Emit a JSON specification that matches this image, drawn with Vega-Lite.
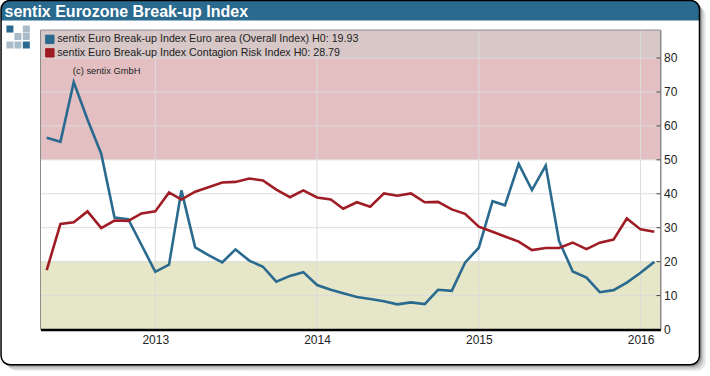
{
"$schema":"https://vega.github.io/schema/vega-lite/v6.json",
"width":620,"height":299.5,
"autosize":{"type":"none"},
"padding":{"left":40.5,"top":30,"right":49.5,"bottom":46.5},
"background":"white",
"title":{"text":"sentix Eurozone Break-up Index","anchor":"start","frame":"group","orient":"top","dx":-36,"offset":-20,"font":"Liberation Sans","fontSize":16,"fontWeight":"bold","color":"white"},
"config":{"view":{"stroke":"#8c8c8c","strokeWidth":1},"font":"Liberation Sans"},
"datasets":{"yticks":[
{"v":0,"a":"2016-02-06","b":"2016-02-15"},{"v":10,"a":"2016-02-06","b":"2016-02-15"},{"v":20,"a":"2016-02-06","b":"2016-02-15"},{"v":30,"a":"2016-02-06","b":"2016-02-15"},{"v":40,"a":"2016-02-06","b":"2016-02-15"},{"v":50,"a":"2016-02-06","b":"2016-02-15"},{"v":60,"a":"2016-02-06","b":"2016-02-15"},{"v":70,"a":"2016-02-06","b":"2016-02-15"},{"v":80,"a":"2016-02-06","b":"2016-02-15"}
],"index":[
{"month":"2012-05-01","series":"A","value":56.5},{"month":"2012-06-01","series":"A","value":55.3},{"month":"2012-07-01","series":"A","value":72.9},{"month":"2012-08-01","series":"A","value":61.9},{"month":"2012-09-01","series":"A","value":51.8},{"month":"2012-10-01","series":"A","value":33},{"month":"2012-11-01","series":"A","value":32.5},{"month":"2012-12-01","series":"A","value":24.9},
{"month":"2013-01-01","series":"A","value":17},{"month":"2013-02-01","series":"A","value":19.1},{"month":"2013-03-01","series":"A","value":41},{"month":"2013-04-01","series":"A","value":24.2},{"month":"2013-05-01","series":"A","value":21.9},{"month":"2013-06-01","series":"A","value":19.8},{"month":"2013-07-01","series":"A","value":23.6},{"month":"2013-08-01","series":"A","value":20.3},{"month":"2013-09-01","series":"A","value":18.5},{"month":"2013-10-01","series":"A","value":14.1},{"month":"2013-11-01","series":"A","value":15.8},{"month":"2013-12-01","series":"A","value":16.9},
{"month":"2014-01-01","series":"A","value":13.1},{"month":"2014-02-01","series":"A","value":11.7},{"month":"2014-03-01","series":"A","value":10.7},{"month":"2014-04-01","series":"A","value":9.6},{"month":"2014-05-01","series":"A","value":9},{"month":"2014-06-01","series":"A","value":8.3},{"month":"2014-07-01","series":"A","value":7.4},{"month":"2014-08-01","series":"A","value":8},{"month":"2014-09-01","series":"A","value":7.5},{"month":"2014-10-01","series":"A","value":11.7},{"month":"2014-11-01","series":"A","value":11.4},{"month":"2014-12-01","series":"A","value":19.7},
{"month":"2015-01-01","series":"A","value":24.1},{"month":"2015-02-01","series":"A","value":37.8},{"month":"2015-03-01","series":"A","value":36.6},{"month":"2015-04-01","series":"A","value":48.8},{"month":"2015-05-01","series":"A","value":41.1},{"month":"2015-06-01","series":"A","value":48.3},{"month":"2015-07-01","series":"A","value":26.1},{"month":"2015-08-01","series":"A","value":17.1},{"month":"2015-09-01","series":"A","value":15.3},{"month":"2015-10-01","series":"A","value":11},{"month":"2015-11-01","series":"A","value":11.6},{"month":"2015-12-01","series":"A","value":13.8},{"month":"2016-01-01","series":"A","value":16.7},{"month":"2016-02-01","series":"A","value":19.93},
{"month":"2012-05-01","series":"B","value":17.5},{"month":"2012-06-01","series":"B","value":31.1},{"month":"2012-07-01","series":"B","value":31.6},{"month":"2012-08-01","series":"B","value":34.8},{"month":"2012-09-01","series":"B","value":29.9},{"month":"2012-10-01","series":"B","value":32.1},{"month":"2012-11-01","series":"B","value":32},{"month":"2012-12-01","series":"B","value":34.2},
{"month":"2013-01-01","series":"B","value":34.8},{"month":"2013-02-01","series":"B","value":40.4},{"month":"2013-03-01","series":"B","value":38.3},{"month":"2013-04-01","series":"B","value":40.6},{"month":"2013-05-01","series":"B","value":41.9},{"month":"2013-06-01","series":"B","value":43.3},{"month":"2013-07-01","series":"B","value":43.5},{"month":"2013-08-01","series":"B","value":44.5},{"month":"2013-09-01","series":"B","value":43.9},{"month":"2013-10-01","series":"B","value":41.2},{"month":"2013-11-01","series":"B","value":39},{"month":"2013-12-01","series":"B","value":41},
{"month":"2014-01-01","series":"B","value":38.9},{"month":"2014-02-01","series":"B","value":38.3},{"month":"2014-03-01","series":"B","value":35.6},{"month":"2014-04-01","series":"B","value":37.5},{"month":"2014-05-01","series":"B","value":36.2},{"month":"2014-06-01","series":"B","value":40.1},{"month":"2014-07-01","series":"B","value":39.4},{"month":"2014-08-01","series":"B","value":40.1},{"month":"2014-09-01","series":"B","value":37.5},{"month":"2014-10-01","series":"B","value":37.6},{"month":"2014-11-01","series":"B","value":35.4},{"month":"2014-12-01","series":"B","value":34.1},
{"month":"2015-01-01","series":"B","value":30.3},{"month":"2015-02-01","series":"B","value":28.8},{"month":"2015-03-01","series":"B","value":27.4},{"month":"2015-04-01","series":"B","value":25.9},{"month":"2015-05-01","series":"B","value":23.4},{"month":"2015-06-01","series":"B","value":24},{"month":"2015-07-01","series":"B","value":24},{"month":"2015-08-01","series":"B","value":25.6},{"month":"2015-09-01","series":"B","value":23.7},{"month":"2015-10-01","series":"B","value":25.6},{"month":"2015-11-01","series":"B","value":26.5},{"month":"2015-12-01","series":"B","value":32.7},{"month":"2016-01-01","series":"B","value":29.5},{"month":"2016-02-01","series":"B","value":28.79}
]},
"layer":[
{"mark":{"type":"rect","fill":"#e6e6e6","cornerRadius":9},"data":{"values":[{"a":"2012-02-02","b":"2016-05-27","c":95.19,"d":-12.17}]},"encoding":{"x":{"field":"a","type":"temporal"},"x2":{"field":"b"},"y":{"field":"c","type":"quantitative"},"y2":{"field":"d"}}},
{"mark":{"type":"rect","fill":"#c8c8c8","cornerRadius":9},"data":{"values":[{"a":"2012-01-28","b":"2016-05-22","c":95.78,"d":-11.58}]},"encoding":{"x":{"field":"a","type":"temporal"},"x2":{"field":"b"},"y":{"field":"c","type":"quantitative"},"y2":{"field":"d"}}},
{"mark":{"type":"rect","fill":"#9c9c9c","cornerRadius":9},"data":{"values":[{"a":"2012-01-24","b":"2016-05-18","c":96.37,"d":-10.99}]},"encoding":{"x":{"field":"a","type":"temporal"},"x2":{"field":"b"},"y":{"field":"c","type":"quantitative"},"y2":{"field":"d"}}},
{"mark":{"type":"rect","fill":"white","cornerRadius":9},"data":{"values":[{"a":"2012-01-19","b":"2016-05-13","c":96.96,"d":-10.4}]},"encoding":{"x":{"field":"a","type":"temporal"},"x2":{"field":"b"},"y":{"field":"c","type":"quantitative"},"y2":{"field":"d"}}},
{"mark":{"type":"rect","fill":"#2a6a8f","cornerRadiusTopLeft":8,"cornerRadiusTopRight":8},"data":{"values":[{"a":"2012-01-19","b":"2016-05-13","c":96.96,"d":91.06}]},"encoding":{"x":{"field":"a","type":"temporal"},"x2":{"field":"b"},"y":{"field":"c","type":"quantitative"},"y2":{"field":"d"}}},
{"mark":{"type":"rect","fillOpacity":0,"stroke":"black","strokeWidth":1.5,"cornerRadius":9},"data":{"values":[{"a":"2012-01-19","b":"2016-05-13","c":96.96,"d":-10.4}]},"encoding":{"x":{"field":"a","type":"temporal"},"x2":{"field":"b"},"y":{"field":"c","type":"quantitative"},"y2":{"field":"d"}}},
{"mark":{"type":"point","shape":"square","filled":true,"size":49,"opacity":1,"color":"#2a6a8f"},"data":{"values":[{"d":"2012-02-08","v":88.55},{"d":"2012-03-16","v":83.84}]},"encoding":{"x":{"field":"d","type":"temporal"},"y":{"field":"v","type":"quantitative"}}},
{"mark":{"type":"point","shape":"square","filled":true,"size":49,"opacity":1,"color":"#a9bcc8"},"data":{"values":[{"d":"2012-03-16","v":88.55},{"d":"2012-02-26","v":86.35},{"d":"2012-03-16","v":86.35},{"d":"2012-02-08","v":83.84},{"d":"2012-02-26","v":83.84}]},"encoding":{"x":{"field":"d","type":"temporal"},"y":{"field":"v","type":"quantitative"}}},
{"mark":{"type":"rect","fill":"#e3bfc2"},"data":{"values":[{"c":50,"d":80}]},"encoding":{"y":{"field":"c","type":"quantitative"},"y2":{"field":"d"}}},
{"mark":{"type":"rect","fill":"#d7c7c7"},"data":{"values":[{"c":80,"d":88.26}]},"encoding":{"y":{"field":"c","type":"quantitative"},"y2":{"field":"d"}}},
{"mark":{"type":"rect","fill":"#e6e6c9"},"data":{"values":[{"c":0,"d":20}]},"encoding":{"y":{"field":"c","type":"quantitative"},"y2":{"field":"d"}}},
{"mark":{"type":"rule","stroke":"#dcdcdc","strokeWidth":1},"data":{"values":[{"v":10},{"v":20},{"v":30},{"v":40},{"v":50},{"v":60},{"v":70},{"v":80}]},"encoding":{"y":{"field":"v","type":"quantitative"}}},
{"mark":{"type":"rule","stroke":"#dcdcdc","strokeWidth":1},"data":{"values":[{"d":"2013-01-01"},{"d":"2014-01-01"},{"d":"2015-01-01"},{"d":"2016-01-01"}]},"encoding":{"x":{"field":"d","type":"temporal"}}},
{"mark":{"type":"rect","fillOpacity":0,"stroke":"#8c8c8c","strokeWidth":1},"data":{"values":[{"c":0,"d":88.26}]},"encoding":{"y":{"field":"c","type":"quantitative"},"y2":{"field":"d"}}},
{"mark":{"type":"rule","stroke":"#444","strokeWidth":1},"data":{"name":"yticks"},"encoding":{"x":{"field":"a","type":"temporal"},"x2":{"field":"b"},"y":{"field":"v","type":"quantitative"}}},
{"mark":{"type":"text","font":"Liberation Sans","fontSize":12,"align":"left","baseline":"middle","dx":3.5,"color":"#222"},"data":{"name":"yticks"},"encoding":{"text":{"field":"v","type":"quantitative"},"x":{"field":"b","type":"temporal"},"y":{"field":"v","type":"quantitative"}}},
{"mark":{"type":"text","font":"Liberation Sans","fontSize":9.4,"align":"left","baseline":"middle","color":"#222"},"data":{"values":[{"t":"(c) sentix GmbH","d":"2012-06-29","v":76.3}]},"encoding":{"text":{"field":"t"},"x":{"field":"d","type":"temporal"},"y":{"field":"v","type":"quantitative"}}},
{"data":{"name":"index"},
"transform":[{"calculate":"datum.series==='A'?'sentix Euro Break-up Index Euro area (Overall Index) H0: 19.93':'sentix Euro Break-up Index Contagion Risk Index H0: 28.79'","as":"name"}],
"mark":{"type":"line","strokeWidth":2.6,"interpolate":"linear"},
"encoding":{
"x":{"field":"month","type":"temporal","title":null,"scale":{"type":"utc","domain":["2012-04-17","2016-02-15"],"nice":false},
"axis":{"zindex":1,"grid":false,"tickCount":{"interval":"year","step":1},"format":"%Y","formatType":"utc","labelFont":"Liberation Sans","labelFontSize":12,"labelColor":"#222","labelPadding":5,"tickSize":0,"domainColor":"black","domainWidth":2.5,"labelFlush":false}},
"y":{"field":"value","type":"quantitative","title":null,"scale":{"domain":[0,88.26],"nice":false},"axis":{"zindex":1,"orient":"right","grid":false,"labels":false,"ticks":false,"domainColor":"#8c8c8c","domainWidth":1}},
"color":{"field":"name","type":"nominal","scale":{"domain":["sentix Euro Break-up Index Euro area (Overall Index) H0: 19.93","sentix Euro Break-up Index Contagion Risk Index H0: 28.79"],"range":["#2a6a8f","#a01c24"]},
"legend":{"title":null,"orient":"top-left","offset":0,"padding":4,"symbolType":"square","symbolSize":70,"symbolStrokeWidth":1,"labelFont":"Liberation Sans","labelFontSize":10.7,"labelColor":"#222","labelLimit":400,"labelOffset":2,"rowPadding":0.5,"encode":{"symbols":{"update":{"fill":{"scale":"color","field":"value"},"stroke":{"value":"#333"},"strokeWidth":{"value":1}}}}}}}}
]
}
